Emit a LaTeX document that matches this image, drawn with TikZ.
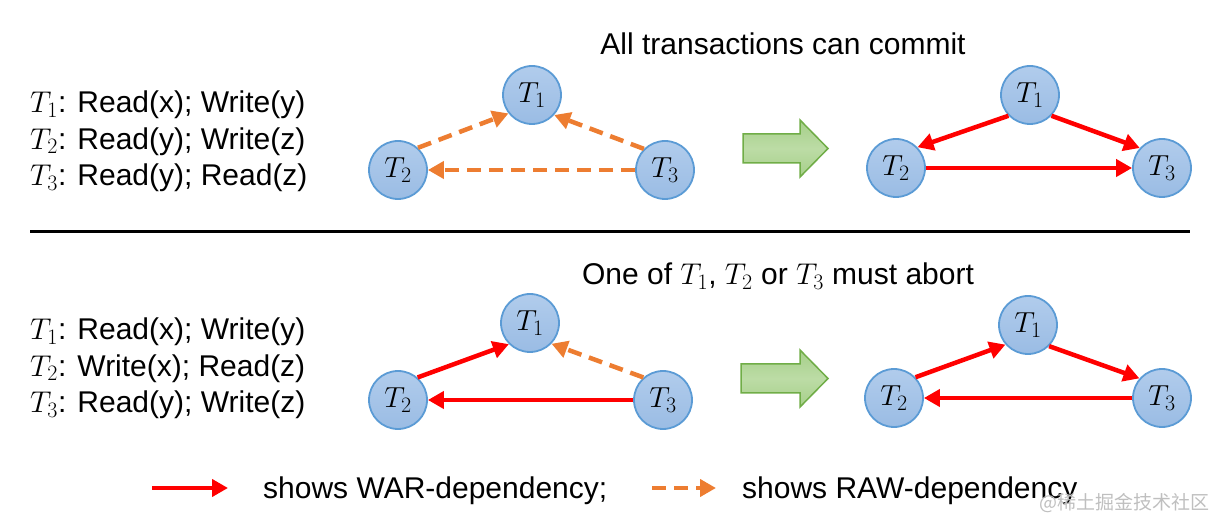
\RequirePackage{fix-cm}
\documentclass[tikz,border=0pt]{standalone}
\usepackage{fontspec}
\setmainfont{Liberation Sans}
\newfontfamily\cjk{Noto Sans CJK SC}
\usetikzlibrary{arrows.meta}
\newcommand\Tnd[1]{$T_{\mbox{\fontsize{22}{24}\selectfont$#1$}}$}
\newcommand\Ttx[1]{$T_{\mbox{\fontsize{22}{24}\selectfont$#1$}}$}
\definecolor{nodeborder}{HTML}{5B9BD5}
\definecolor{nodetop}{HTML}{B1CCEC}
\definecolor{nodebot}{HTML}{9ABCE4}
\definecolor{warred}{HTML}{FF0000}
\definecolor{raworange}{HTML}{ED7D31}
\definecolor{gfillA}{HTML}{A6CF8A}
\definecolor{gfillB}{HTML}{BCDCA5}
\definecolor{gborder}{HTML}{70AD47}
\tikzset{
  tnode/.style={circle, draw=nodeborder, line width=1.8pt, minimum size=58pt, inner sep=0pt,
    top color=nodetop, bottom color=nodebot, font=\fontsize{29}{32}\selectfont},
  war/.style={draw=warred, line width=4.5pt, -{Triangle[length=16pt,width=17pt]}},
  raw/.style={draw=raworange, line width=4.5pt, dash pattern=on 14pt off 8pt,
    -{Triangle[length=16pt,width=17pt]}},
  txt/.style={anchor=base west, inner sep=0pt, font=\fontsize{30}{34}\selectfont},
  title/.style={anchor=base, inner sep=0pt, font=\fontsize{30}{36}\selectfont},
  legtxt/.style={anchor=base west, inner sep=0pt, font=\fontsize{30}{36}\selectfont},
  garrow/.style={draw=gborder, line width=1.5pt, top color=gfillA, bottom color=gfillA, middle color=gfillB},
  divider/.style={draw=black, line width=3pt},
}
\begin{document}
\begin{tikzpicture}[x=1pt,y=-1pt]
\useasboundingbox (0,0) rectangle (1219,529);
% ---------- top ----------
\node[title] (title1) at (783,55) {All transactions can commit};
\node[txt] (a1) at (30,113) {\Ttx{1}: Read(x); Write(y)};
\node[txt] (a2) at (30,149.5) {\Ttx{2}: Read(y); Write(z)};
\node[txt] (a3) at (30,186) {\Ttx{3}: Read(y); Read(z)};
\node[tnode] (p1) at (532,95) {\Tnd{1}};
\node[tnode] (p2) at (398,170) {\Tnd{2}};
\node[tnode] (p3) at (665,170) {\Tnd{3}};
\draw[raw] (p2.48) -- (p1.218);
\draw[raw] (p3.135) -- (p1.318);
\draw[raw] (p3) -- (p2);
\draw[garrow] (743,134) -- (800,134) -- (800,120) -- (828,148.5) -- (800,177) -- (800,163) -- (743,163) -- cycle;
\node[tnode] (q1) at (1030,95) {\Tnd{1}};
\node[tnode] (q2) at (896,168) {\Tnd{2}};
\node[tnode] (q3) at (1162,168) {\Tnd{3}};
\draw[war] (q1.224) -- (q2.44);
\draw[war] (q1.316) -- (q3.138);
\draw[war] (q2) -- (q3);
% ---------- divider ----------
\draw[divider] (30,232) -- (1190,232);
% ---------- bottom ----------
\node[title] (title2) at (778,285) {One of \Ttx{1}, \Ttx{2} or \Ttx{3} must abort};
\node[txt] (b1) at (30,340) {\Ttx{1}: Read(x); Write(y)};
\node[txt] (b2) at (30,376.5) {\Ttx{2}: Write(x); Read(z)};
\node[txt] (b3) at (30,413) {\Ttx{3}: Read(y); Write(z)};
\node[tnode] (r1) at (530,323) {\Tnd{1}};
\node[tnode] (r2) at (398,400) {\Tnd{2}};
\node[tnode] (r3) at (663,400) {\Tnd{3}};
\draw[war] (r2.49) -- (r1.225);
\draw[raw] (r3.131) -- (r1.316);
\draw[war] (r3) -- (r2);
\draw[garrow] (741,364) -- (800,364) -- (800,350) -- (828,378.5) -- (800,407) -- (800,393) -- (741,393) -- cycle;
\node[tnode] (s1) at (1028,325) {\Tnd{1}};
\node[tnode] (s2) at (894,398) {\Tnd{2}};
\node[tnode] (s3) at (1162,398) {\Tnd{3}};
\draw[war] (s2.44) -- (s1.221);
\draw[war] (s1.315) -- (s3.139);
\draw[war] (s3) -- (s2);
% ---------- legend ----------
\coordinate (la) at (152,488);
\coordinate (lb) at (228,488);
\draw[war] (la) -- (lb);
\node[legtxt] (lt1) at (263,498) {shows WAR-dependency;};
\coordinate (lc) at (652,488);
\coordinate (ld) at (716,488);
\draw[raw] (lc) -- (ld);
\node[legtxt] (lt2) at (742,498) {shows RAW-dependency};
\node[anchor=east, inner sep=0pt, text=black!25, font=\cjk\fontsize{19}{22}\selectfont] (wm) at (1210,503) {@稀土掘金技术社区};
\end{tikzpicture}
\end{document}
